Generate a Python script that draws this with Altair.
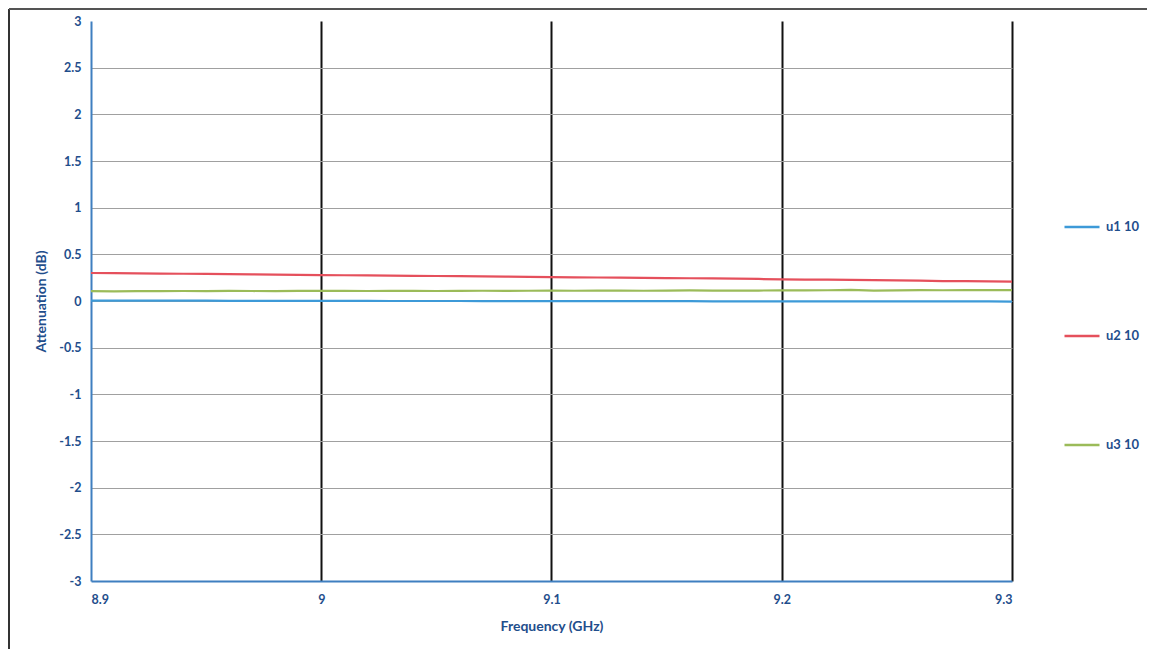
import altair as alt
import pandas as pd

freq = [round(8.90 + 0.01 * i, 2) for i in range(41)]

u1 = [0.004, 0.004, 0.003, 0.003, 0.003, 0.003, 0.002, 0.002, 0.002, 0.002, 0.001,
      0.001, 0.001, 0.000, 0.000, 0.000, 0.000, -0.001, -0.001, -0.001, -0.001,
      -0.001, -0.002, -0.002, -0.002, -0.002, -0.002, -0.003, -0.003, -0.003, -0.003,
      -0.003, -0.004, -0.004, -0.004, -0.004, -0.005, -0.005, -0.005, -0.005, -0.006]

u2 = [0.300, 0.298, 0.296, 0.294, 0.292, 0.290, 0.288, 0.285, 0.283, 0.280, 0.278,
      0.276, 0.274, 0.272, 0.270, 0.268, 0.266, 0.264, 0.262, 0.259, 0.256,
      0.254, 0.252, 0.250, 0.248, 0.246, 0.244, 0.242, 0.240, 0.236, 0.232,
      0.230, 0.228, 0.226, 0.224, 0.222, 0.218, 0.214, 0.212, 0.210, 0.208]

u3 = [0.105, 0.104, 0.106, 0.105, 0.107, 0.106, 0.108, 0.107, 0.106, 0.108, 0.109,
      0.108, 0.107, 0.109, 0.108, 0.107, 0.109, 0.110, 0.109, 0.110, 0.111,
      0.110, 0.112, 0.111, 0.110, 0.112, 0.113, 0.112, 0.111, 0.112, 0.114,
      0.113, 0.115, 0.120, 0.112, 0.113, 0.116, 0.115, 0.116, 0.117, 0.116]

series_names = ["u1 10", "u2 10", "u3 10"]
series_colors = ["#3d9ad8", "#e5505c", "#9bbb59"]

rows = []
for name, vals in zip(series_names, [u1, u2, u3]):
    for f, v in zip(freq, vals):
        rows.append({"Frequency": f, "Attenuation": v, "Series": name})
df = pd.DataFrame(rows)

x_ticks = [8.9, 9.0, 9.1, 9.2, 9.3]
y_ticks = [-3, -2.5, -2, -1.5, -1, -0.5, 0, 0.5, 1, 1.5, 2, 2.5, 3]

TEXT = "#1f4e8c"
FONT = "Lato"

lines = alt.Chart(df).mark_line(strokeWidth=2.2, clip=True).encode(
    x=alt.X("Frequency:Q",
            scale=alt.Scale(domain=[8.9, 9.3], nice=False, zero=False),
            axis=alt.Axis(values=x_ticks, title="Frequency (GHz)",
                          labelExpr="'' + datum.value",
                          grid=True,
                          gridColor={"condition": {"test": "datum.value <= 8.9", "value": "transparent"}, "value": "#111111"},
                          gridWidth=2, ticks=False, domainColor="#3f7fc0", domainWidth=2,
                          labelPadding=12, titlePadding=14)),
    y=alt.Y("Attenuation:Q",
            scale=alt.Scale(domain=[-3, 3], nice=False),
            axis=alt.Axis(values=y_ticks, title="Attenuation (dB)",
                          labelExpr="'' + datum.value",
                          grid=True,
                          gridColor={"condition": {"test": "datum.value >= 3 || datum.value <= -3", "value": "transparent"}, "value": "#a0a0a0"},
                          gridWidth=1, ticks=False, domainColor="#3f7fc0", domainWidth=2,
                          labelPadding=10, titlePadding=10)),
    color=alt.Color("Series:N",
                    scale=alt.Scale(domain=series_names, range=series_colors),
                    legend=alt.Legend(title=None, orient="none", legendX=972, legendY=187,
                                      symbolType="stroke", symbolSize=1225, symbolStrokeWidth=2.5,
                                      rowPadding=83, labelFontSize=13, labelColor=TEXT,
                                      labelFont=FONT, labelFontWeight="bold", labelOffset=5)),
)

frame_left = alt.Chart(df).mark_rule(color="#333333", strokeWidth=2).encode(
    x=alt.value(-82), y=alt.value(-12), y2=alt.value(638))
frame_top = alt.Chart(df).mark_rule(color="#555555", strokeWidth=1.5).encode(
    x=alt.value(-82), x2=alt.value(1056), y=alt.value(-12))

chart = alt.layer(lines, frame_left, frame_top).properties(
    width=921, height=560,
    autosize=alt.AutoSizeParams(type="none"),
    padding={"left": 83, "top": 13, "right": 144, "bottom": 68},
).configure_view(stroke=None).configure_axis(
    labelFont=FONT, labelFontWeight="bold", labelFontSize=12.5, labelColor=TEXT,
    titleFont=FONT, titleFontWeight="bold", titleFontSize=14, titleColor=TEXT,
)

chart.save("out.html", embed_options={"renderer": "svg", "actions": False})
